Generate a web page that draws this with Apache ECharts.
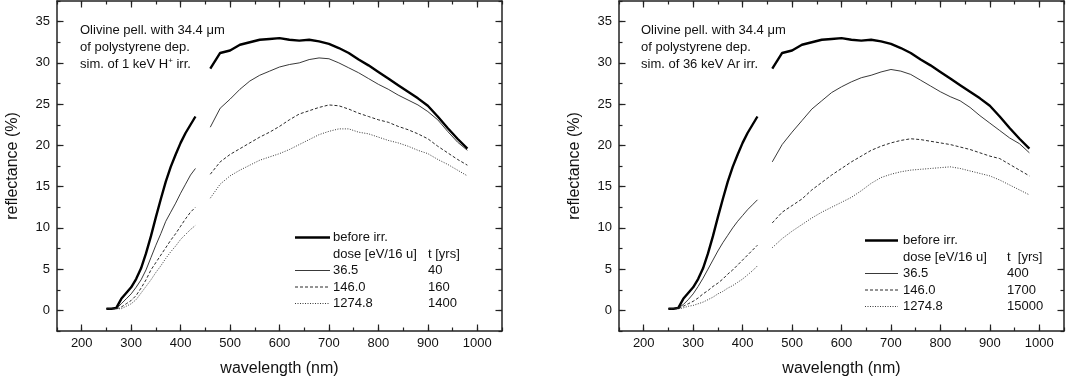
<!DOCTYPE html>
<html>
<head>
<meta charset="utf-8">
<script src="https://cdn.jsdelivr.net/npm/echarts@6/dist/echarts.min.js"></script>
<style>
  html, body { margin: 0; padding: 0; background: #fff; }
  #chart { width: 1066px; height: 378px; }
</style>
</head>
<body>
<div id="chart"></div>
<script>
// wavelength grid (nm); 445 is the gap between the two detectors
const wavelength = [250, 260, 270, 280, 290, 300, 310, 320, 330, 340, 350, 360, 370, 380, 390, 400, 410, 420, 430,
  445,
  460, 480, 500, 520, 540, 560, 580, 600, 620, 640, 660, 680, 700, 720, 740, 760, 780, 800, 820, 840, 860, 880, 900, 920, 940, 960, 980];

// reflectance (%) before irradiation (same in both panels)
const beforeIrr = [0.2, 0.2, 0.3, 1.4, 2.1, 2.8, 3.8, 5.1, 6.9, 9.0, 11.3, 13.5, 15.6, 17.4, 18.9, 20.3, 21.5, 22.5, 23.5,
  null,
  29.3, 31.2, 31.5, 32.2, 32.5, 32.8, 32.9, 33.0, 32.8, 32.7, 32.8, 32.6, 32.3, 31.8, 31.2, 30.4, 29.7, 28.9, 28.1, 27.3, 26.5, 25.7, 24.8, 23.5, 22.1, 20.8, 19.6];

// left panel: 1 keV H+
const hDose1 = [0.2, 0.2, 0.2, 0.8, 1.4, 2.0, 2.8, 3.7, 4.9, 6.4, 7.9, 9.3, 10.8, 11.9, 13.0, 14.2, 15.3, 16.4, 17.2,
  null,
  22.2, 24.5, 25.6, 26.8, 27.8, 28.5, 29.0, 29.5, 29.8, 30.0, 30.4, 30.6, 30.5, 30.0, 29.4, 28.8, 28.1, 27.4, 26.8, 26.1, 25.5, 24.9, 24.1, 23.1, 21.7, 20.4, 19.4];
const hDose2 = [0.2, 0.2, 0.2, 0.4, 0.8, 1.2, 1.8, 2.7, 3.7, 4.9, 5.8, 6.7, 7.6, 8.5, 9.3, 10.2, 11.1, 11.9, 12.5,
  null,
  16.5, 18.0, 18.9, 19.6, 20.3, 21.0, 21.6, 22.3, 23.1, 23.8, 24.2, 24.6, 24.9, 24.8, 24.4, 23.9, 23.5, 23.1, 22.8, 22.3, 21.9, 21.4, 20.8, 19.9, 19.1, 18.3, 17.6];
const hDose3 = [0.2, 0.2, 0.2, 0.2, 0.5, 0.8, 1.3, 2.1, 2.9, 3.7, 4.6, 5.4, 6.3, 7.1, 7.8, 8.6, 9.2, 9.8, 10.3,
  null,
  13.6, 15.3, 16.3, 17.0, 17.6, 18.2, 18.6, 19.0, 19.5, 20.1, 20.7, 21.3, 21.7, 22.0, 22.0, 21.6, 21.4, 21.0, 20.6, 20.3, 19.9, 19.4, 19.0, 18.3, 17.7, 17.0, 16.3];

// right panel: 36 keV Ar
const arDose1 = [0.2, 0.2, 0.3, 0.7, 1.3, 2.0, 2.9, 3.9, 5.0, 6.1, 7.2, 8.2, 9.1, 10.0, 10.8, 11.5, 12.2, 12.8, 13.4,
  null,
  18.0, 20.1, 21.6, 23.0, 24.4, 25.4, 26.4, 27.1, 27.7, 28.2, 28.5, 28.9, 29.2, 29.0, 28.6, 27.9, 27.2, 26.5, 25.9, 25.4, 24.6, 23.6, 22.7, 21.8, 20.9, 20.2, 19.1];
const arDose2 = [0.2, 0.2, 0.2, 0.5, 0.8, 1.1, 1.5, 2.0, 2.4, 2.9, 3.3, 3.8, 4.4, 4.9, 5.5, 6.1, 6.7, 7.3, 7.9,
  null,
  10.6, 11.9, 12.7, 13.5, 14.6, 15.5, 16.4, 17.2, 18.0, 18.7, 19.4, 19.9, 20.3, 20.6, 20.8, 20.7, 20.5, 20.3, 20.1, 19.8, 19.5, 19.1, 18.7, 18.4, 17.7, 17.0, 16.3];
const arDose3 = [0.2, 0.2, 0.2, 0.3, 0.5, 0.6, 0.8, 1.0, 1.3, 1.6, 2.0, 2.3, 2.7, 3.0, 3.4, 3.8, 4.3, 4.8, 5.4,
  null,
  7.6, 8.7, 9.6, 10.4, 11.2, 11.9, 12.5, 13.1, 13.7, 14.5, 15.4, 16.1, 16.5, 16.8, 17.0, 17.1, 17.2, 17.3, 17.4, 17.2, 16.9, 16.6, 16.3, 15.8, 15.2, 14.6, 14.0];

const xMajor = [200, 300, 400, 500, 600, 700, 800, 900, 1000];
const yMajor = [0, 5, 10, 15, 20, 25, 30, 35];
const doses = ['36.5', '146.0', '1274.8'];
const yearsH = ['40', '160', '1400'];
const yearsAr = ['400', '1700', '15000'];

const FONT = '"Liberation Sans", Arial, Helvetica, sans-serif';
const INK = '#111';
const axisLine = { show: true, onZero: false, lineStyle: { color: '#222', width: 1.5 } };
const noLine = { show: false, onZero: false };
const tickStyle = { color: '#222', width: 1.2 };

const lineStyles = [
  { color: '#000', width: 2.4, type: 'solid' },
  { color: '#222', width: 0.9, type: 'solid' },
  { color: '#111', width: 0.9, type: [3, 2] },
  { color: '#222', width: 0.9, type: [1, 1.5] }
];

function pairs(vals) {
  return wavelength.map((w, i) => [w, vals[i] == null ? '-' : vals[i]]);
}

// four x axes and four y axes per grid: minor ticks + major ticks on every side
function xAxes(g) {
  const base = { type: 'value', gridIndex: g, min: 150, max: 1050, interval: 50, splitLine: { show: false } };
  return [
    Object.assign({}, base, {
      position: 'bottom', axisLine: axisLine,
      axisTick: { inside: true, length: 3.5, lineStyle: tickStyle },
      axisLabel: { customValues: xMajor, formatter: v => String(v), color: INK, fontSize: 13, fontFamily: FONT, margin: 6 },
      name: 'wavelength (nm)', nameLocation: 'middle', nameGap: 30,
      nameTextStyle: { color: INK, fontSize: 16, fontFamily: FONT }
    }),
    Object.assign({}, base, {
      position: 'bottom', axisLine: noLine,
      axisTick: { inside: true, length: 6.5, customValues: xMajor, lineStyle: tickStyle },
      axisLabel: { show: false }
    }),
    Object.assign({}, base, {
      position: 'top', axisLine: axisLine,
      axisTick: { inside: true, length: 3.5, lineStyle: tickStyle },
      axisLabel: { show: false }
    }),
    Object.assign({}, base, {
      position: 'top', axisLine: noLine,
      axisTick: { inside: true, length: 6.5, customValues: xMajor, lineStyle: tickStyle },
      axisLabel: { show: false }
    })
  ];
}

function yAxes(g) {
  const base = { type: 'value', gridIndex: g, min: -2.5, max: 37.5, interval: 2.5, splitLine: { show: false } };
  return [
    Object.assign({}, base, {
      position: 'left', axisLine: axisLine,
      axisTick: { inside: true, length: 3.5, lineStyle: tickStyle },
      axisLabel: { customValues: yMajor, color: INK, fontSize: 13, fontFamily: FONT, margin: 7 },
      name: 'reflectance (%)', nameLocation: 'middle', nameGap: 36, nameRotate: 90,
      nameTextStyle: { color: INK, fontSize: 16, fontFamily: FONT }
    }),
    Object.assign({}, base, {
      position: 'left', axisLine: noLine,
      axisTick: { inside: true, length: 6.5, customValues: yMajor, lineStyle: tickStyle },
      axisLabel: { show: false }
    }),
    Object.assign({}, base, {
      position: 'right', axisLine: axisLine,
      axisTick: { inside: true, length: 3.5, lineStyle: tickStyle },
      axisLabel: { show: false }
    }),
    Object.assign({}, base, {
      position: 'right', axisLine: noLine,
      axisTick: { inside: true, length: 6.5, customValues: yMajor, lineStyle: tickStyle },
      axisLabel: { show: false }
    })
  ];
}

function panelSeries(g, list) {
  return list.map((vals, k) => ({
    type: 'line',
    xAxisIndex: g * 4,
    yAxisIndex: g * 4,
    data: pairs(vals),
    showSymbol: false,
    connectNulls: false,
    silent: true,
    lineStyle: lineStyles[k]
  }));
}

function txt(x, y, text, extra) {
  return {
    type: 'text', x: x, y: y, silent: true,
    style: Object.assign({
      text: text, fill: INK, fontSize: 13, fontFamily: FONT,
      align: 'left', verticalAlign: 'middle'
    }, extra || {})
  };
}

function legendBlock(lx0, lx1, tx, yx, y0, years) {
  const step = 16.5;
  const els = [];
  els.push({ type: 'line', silent: true, shape: { x1: lx0, y1: y0, x2: lx1, y2: y0 },
    style: { stroke: '#000', lineWidth: 2.4 } });
  els.push(txt(tx, y0, 'before irr.'));
  els.push(txt(tx, y0 + step, 'dose [eV/16 u]'));
  els.push(txt(yx, y0 + step, years === yearsAr ? 't  [yrs]' : 't [yrs]'));
  doses.forEach((d, k) => {
    const y = y0 + step * (k + 2);
    const ls = lineStyles[k + 1];
    els.push({ type: 'line', silent: true, shape: { x1: lx0, y1: y, x2: lx1, y2: y },
      style: { stroke: ls.color, lineWidth: ls.width, lineDash: ls.type === 'solid' ? null : ls.type } });
    els.push(txt(tx, y, d));
    els.push(txt(yx, y, years[k]));
  });
  return els;
}

function noteBlock(x, y0, last) {
  return [
    txt(x, y0, 'Olivine pell. with 34.4 \u03bcm'),
    txt(x, y0 + 17, 'of polystyrene dep.'),
    txt(x, y0 + 34, last, { rich: { sup: { fontSize: 8, fontFamily: FONT, fill: INK, verticalAlign: 'top', padding: [0, 0, 7, 0] } } })
  ];
}

const chart = echarts.init(document.getElementById('chart'), null, { renderer: 'canvas' });

chart.setOption({
  animation: false,
  backgroundColor: '#fff',
  grid: [
    { left: 57, right: 564, top: 1, bottom: 47, outerBoundsMode: 'none' },
    { left: 619, right: 2, top: 1, bottom: 47, outerBoundsMode: 'none' }
  ],
  xAxis: xAxes(0).concat(xAxes(1)),
  yAxis: yAxes(0).concat(yAxes(1)),
  series: panelSeries(0, [beforeIrr, hDose1, hDose2, hDose3])
    .concat(panelSeries(1, [beforeIrr, arDose1, arDose2, arDose3])),
  graphic: []
    .concat(noteBlock(80, 30, 'sim. of 1 keV H{sup|+} irr.'))
    .concat(noteBlock(641, 30, 'sim. of 36 keV Ar irr.'))
    .concat(legendBlock(295, 330, 333, 428, 237.5, yearsH))
    .concat(legendBlock(865, 898, 903, 1007, 240.5, yearsAr))
});
</script>
</body>
</html>
